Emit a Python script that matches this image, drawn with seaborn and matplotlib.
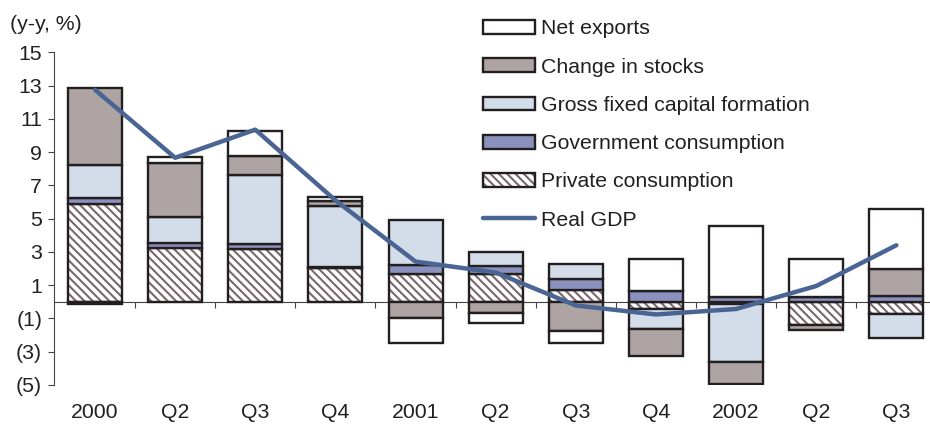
import matplotlib
matplotlib.use("Agg")
import matplotlib.pyplot as plt
from matplotlib.patches import Patch
from matplotlib.lines import Line2D
from matplotlib.legend_handler import HandlerTuple
import numpy as np
import seaborn as sns

# Contributions to real GDP growth, y-y %
quarters = ["2000", "Q2", "Q3", "Q4", "2001", "Q2", "Q3", "Q4", "2002", "Q2", "Q3"]
private_consumption = [5.9, 3.25, 3.2, 2.04, 1.68, 1.68, 0.74, -0.46, -0.15, -1.4, -0.76]
government_consumption = [0.35, 0.3, 0.25, 0.05, 0.55, 0.5, 0.64, 0.68, 0.32, 0.32, 0.35]
gross_fixed_capital = [1.95, 1.55, 4.15, 3.7, 2.7, 0.82, 0.92, -1.2, -3.48, 0.0, -1.4]
change_in_stocks = [4.65, 3.25, 1.15, 0.25, -1.0, -0.7, -1.77, -1.6, -1.28, -0.27, 1.6]
net_exports = [-0.15, 0.35, 1.5, 0.27, -1.5, -0.6, -0.7, 1.9, 4.23, 2.28, 3.66]
real_gdp = [12.75, 8.66, 10.35, 6.1, 2.42, 1.76, -0.22, -0.76, -0.43, 0.95, 3.4]

ytick_values = [-5, -3, -1, 1, 3, 5, 7, 9, 11, 13, 15]
ytick_labels = ["(5)", "(3)", "(1)", "1", "3", "5", "7", "9", "11", "13", "15"]

INK = "#231F20"
HATCH_INK = "#7A676B"
C_NX = "#FFFFFF"
C_STOCKS = "#ADA4A3"
C_GFCF = "#D3DCE9"
C_GOV = "#8A91BE"
C_LINE = "#4A6593"
HATCH = "\\\\\\\\"

sns.set_theme(style="white")
plt.rcParams["font.family"] = ["Liberation Sans", "DejaVu Sans"]
plt.rcParams["hatch.linewidth"] = 1.5
FS = 15.3

fig = plt.figure(figsize=(9.3, 4.29), dpi=100)
ax = fig.add_axes([54 / 930, 1 - 385 / 429, (930 - 54) / 930, (385 - 52.3) / 429])

x = np.arange(len(quarters))
width = 0.674
pos_base = np.zeros(len(quarters))
neg_base = np.zeros(len(quarters))

series = [
    ("Private consumption", private_consumption, "white", HATCH),
    ("Government consumption", government_consumption, C_GOV, None),
    ("Gross fixed capital formation", gross_fixed_capital, C_GFCF, None),
    ("Change in stocks", change_in_stocks, C_STOCKS, None),
    ("Net exports", net_exports, C_NX, None),
]

for name, vals, color, hatch in series:
    v = np.asarray(vals, dtype=float)
    bottoms = np.where(v >= 0, pos_base, neg_base)
    if hatch:
        # hatch strokes in their own colour, then the dark outline on top
        ax.bar(x, v, width=width, bottom=bottoms, color="white", hatch=hatch,
               edgecolor=HATCH_INK, linewidth=0, zorder=2)
        ax.bar(x, v, width=width, bottom=bottoms, fill=False,
               edgecolor=INK, linewidth=1.7, zorder=3)
    else:
        ax.bar(x, v, width=width, bottom=bottoms, color=color,
               edgecolor=INK, linewidth=1.7, zorder=3)
    pos_base = np.where(v >= 0, pos_base + v, pos_base)
    neg_base = np.where(v < 0, neg_base + v, neg_base)

sns.lineplot(x=x, y=real_gdp, ax=ax, color=C_LINE, linewidth=3.2,
             solid_capstyle="round", legend=False, zorder=5)

ax.set_xlim(-0.512, 10.42)
ax.set_ylim(-5, 15)

# axes styling
for side in ("top", "right"):
    ax.spines[side].set_visible(False)
ax.spines["left"].set_color("#444444")
ax.spines["left"].set_linewidth(0.8)
ax.spines["bottom"].set_position(("data", 0))
ax.spines["bottom"].set_color("#444444")
ax.spines["bottom"].set_linewidth(0.8)
ax.spines["bottom"].set_zorder(1)

ax.set_yticks(ytick_values)
ax.set_yticklabels(ytick_labels)
ax.tick_params(axis="y", direction="out", length=4.5, width=0.8, color="#444444",
               labelsize=FS, labelcolor=INK, pad=4, left=True)

ax.set_xticks(x)
ax.set_xticklabels([])
ax.set_xticks(x[:-1] + 0.5, minor=True)
ax.tick_params(axis="x", which="major", length=0)
ax.tick_params(axis="x", which="minor", direction="out", length=4.5, width=0.8,
               color="#444444", bottom=True)
for xi, lab in zip(x, quarters):
    ax.text(xi, -0.084, lab, transform=ax.get_xaxis_transform(), ha="center",
            va="center", fontsize=FS, color=INK)

fig.text(10 / 930, 1 - 25 / 429, "(y-y, %)", ha="left", va="center",
         fontsize=FS, color=INK)

# legend
handles = [
    Patch(facecolor=C_NX, edgecolor=INK, linewidth=1.7),
    Patch(facecolor=C_STOCKS, edgecolor=INK, linewidth=1.7),
    Patch(facecolor=C_GFCF, edgecolor=INK, linewidth=1.7),
    Patch(facecolor=C_GOV, edgecolor=INK, linewidth=1.7),
    (Patch(facecolor="white", hatch=HATCH, edgecolor=HATCH_INK, linewidth=0),
     Patch(fill=False, edgecolor=INK, linewidth=1.7)),
    Line2D([0], [0], color=C_LINE, linewidth=3.2),
]
labels = ["Net exports", "Change in stocks", "Gross fixed capital formation",
          "Government consumption", "Private consumption", "Real GDP"]
leg = fig.legend(handles, labels, loc="upper left",
                 bbox_to_anchor=(483 / 930, 1 - 19.5 / 429),
                 frameon=False, fontsize=FS, handlelength=2.45, handleheight=0.62,
                 handletextpad=0.3, labelspacing=0.905, borderpad=0, borderaxespad=0,
                 handler_map={tuple: HandlerTuple(ndivide=1)})
for t in leg.get_texts():
    t.set_color(INK)

fig.savefig("out.png", dpi=100)
